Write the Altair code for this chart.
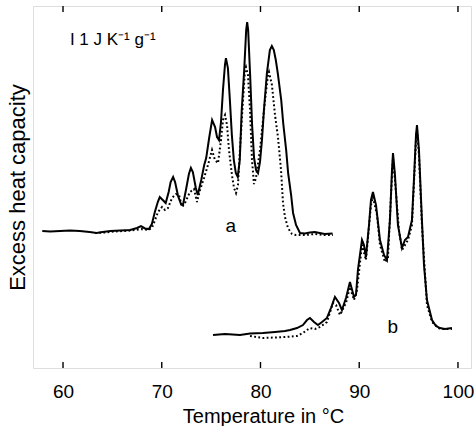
import altair as alt
import pandas as pd

# ---- data (temperature in °C, excess heat capacity in J K^-1 g^-1, curves offset) ----
a_solid_T = [57.9, 58.7, 59.7, 60.7, 61.7, 62.7, 63.4, 64.0, 64.8, 65.8, 66.8, 67.5, 67.9, 68.3, 68.7,
             69.0, 69.3, 69.6, 69.8, 70.1, 70.4, 70.7, 70.9, 71.15, 71.35, 71.65, 71.95, 72.15, 72.45,
             72.75, 72.95, 73.15, 73.45, 73.65, 74.0, 74.3, 74.5, 74.8, 75.1, 75.4, 75.6, 75.8, 76.0,
             76.2, 76.4, 76.5, 76.7, 76.9, 77.1, 77.3, 77.5, 77.7, 77.9, 78.1, 78.35, 78.55, 78.65,
             78.75, 78.95, 79.15, 79.35, 79.55, 79.75, 79.95, 80.15, 80.35, 80.65, 80.95, 81.15, 81.35,
             81.55, 81.75, 82.1, 82.3, 82.6, 82.8, 83.1, 83.3, 83.6, 84.0, 84.5, 85.0, 85.5, 86.0,
             86.5, 87.3]
a_solid_cp = [11.42, 11.38, 11.42, 11.46, 11.42, 11.33, 11.25, 11.33, 11.42, 11.46, 11.5, 11.67, 11.83,
              11.63, 11.58, 12.0, 13.0, 13.83, 14.25, 14.0, 13.75, 14.67, 15.5, 15.92, 15.5, 14.33,
              13.67, 13.58, 14.83, 16.17, 16.67, 16.33, 15.0, 14.42, 15.67, 16.92, 17.5, 19.17, 20.67,
              20.08, 19.25, 19.0, 20.5, 23.17, 25.25, 25.83, 25.0, 22.33, 19.42, 17.33, 16.25, 15.92,
              17.33, 21.5, 24.83, 28.17, 28.83, 28.17, 24.42, 20.25, 17.5, 16.5, 16.25, 17.17, 19.0,
              21.5, 24.58, 26.5, 26.83, 26.5, 25.67, 24.58, 22.33, 20.42, 18.17, 16.25, 14.42, 12.92,
              11.92, 11.25, 11.21, 11.29, 11.33, 11.25, 11.17, 11.2]

a_dot_T = [63.24, 64.25, 65.27, 66.28, 67.29, 68.0, 68.61, 69.01, 69.32, 69.62, 70.03, 70.33, 70.63,
           71.04, 71.44, 71.75, 72.05, 72.35, 72.86, 73.27, 73.57, 73.87, 74.28, 74.68, 75.09, 75.39,
           75.7, 76.0, 76.2, 76.41, 76.61, 76.81, 77.11, 77.32, 77.52, 77.72, 77.92, 78.23, 78.43,
           78.53, 78.73, 78.94, 79.14, 79.34, 79.54, 79.95, 80.46, 80.76, 80.86, 81.16, 81.47, 81.77,
           82.08, 82.28, 82.48, 82.78, 83.19, 83.59, 84.51, 85.52, 86.53, 87.34]
a_dot_cp = [11.25, 11.29, 11.38, 11.42, 11.5, 11.58, 11.5, 11.67, 12.33, 13.0, 13.42, 13.17, 13.33,
            14.17, 14.5, 14.42, 13.42, 13.75, 14.67, 14.92, 13.83, 14.83, 15.83, 16.92, 18.17, 17.33,
            17.08, 19.0, 20.67, 21.08, 20.25, 18.17, 16.08, 15.0, 14.58, 15.25, 18.17, 22.33, 24.83,
            25.08, 24.42, 21.5, 17.33, 15.33, 15.83, 18.17, 22.33, 24.42, 24.67, 23.58, 21.08, 19.25,
            16.5, 13.75, 12.58, 11.67, 11.17, 11.08, 11.08, 11.17, 11.08, 11.08]

b_solid_T = [75.19, 76.41, 77.92, 78.94, 80.25, 81.47, 82.48, 82.99, 83.7, 84.3, 84.71, 85.01, 85.42,
             85.82, 86.23, 86.73, 87.14, 87.54, 87.95, 88.25, 88.66, 89.06, 89.47, 89.67, 89.87, 90.28,
             90.48, 90.68, 90.99, 91.19, 91.39, 91.7, 92.1, 92.51, 92.81, 93.11, 93.32, 93.42, 93.62,
             93.92, 94.33, 94.63, 94.94, 95.34, 95.54, 95.75, 95.85, 96.05, 96.35, 96.56, 96.86, 97.37,
             97.77, 98.18, 98.68, 99.39]
b_solid_cp = [2.75, 2.83, 2.75, 2.88, 2.92, 3.0, 3.08, 3.17, 3.33, 3.58, 4.0, 4.17, 3.83, 3.58, 3.83,
              4.17, 5.0, 5.92, 5.42, 4.83, 5.83, 7.17, 5.92, 6.08, 8.17, 10.67, 10.25, 9.25, 11.92,
              14.0, 14.67, 13.58, 10.67, 9.42, 9.0, 12.33, 16.5, 17.92, 16.08, 11.92, 10.0, 10.67,
              10.92, 12.33, 15.67, 19.42, 20.25, 18.17, 12.33, 8.58, 5.67, 4.0, 3.5, 3.33, 3.25, 3.33]

b_dot_T = [78.94, 80.25, 81.47, 82.48, 83.7, 84.3, 84.71, 85.01, 85.52, 86.03, 86.73, 87.34, 87.65,
           88.05, 88.66, 89.06, 89.47, 89.77, 90.28, 90.68, 91.19, 91.39, 91.8, 92.1, 92.61, 92.91,
           93.32, 93.42, 93.62, 94.02, 94.33, 94.94, 95.34, 95.75, 95.85, 96.05, 96.35, 96.86, 97.37,
           98.18, 99.39]
b_dot_cp = [2.67, 2.5, 2.54, 2.58, 2.67, 2.92, 3.17, 3.33, 3.25, 3.42, 3.83, 5.42, 5.25, 4.42, 5.42,
            6.75, 5.67, 6.5, 10.25, 9.0, 13.58, 14.25, 12.75, 10.25, 8.83, 9.17, 16.08, 17.5, 15.67,
            11.5, 9.83, 10.67, 11.92, 19.0, 19.83, 17.75, 11.92, 5.25, 3.83, 3.25, 3.25]

tick_values = [60, 70, 80, 90, 100]

curve_labels = ["a", "b"]
curve_label_T = [77.0, 93.4]
curve_label_cp = [11.3, 2.95]

scale_text = ["I 1 J K\u207b\u00b9 g\u207b\u00b9"]
scale_text_T = [60.7]
scale_text_cp = [26.9]

# ---- frames ----
def frame(T, cp, curve):
    return pd.DataFrame({"T": T, "cp": cp, "curve": curve})

solid = pd.concat([frame(a_solid_T, a_solid_cp, "a"), frame(b_solid_T, b_solid_cp, "b")])
dotted = pd.concat([frame(a_dot_T, a_dot_cp, "a"), frame(b_dot_T, b_dot_cp, "b")])
ticks = pd.DataFrame({"T": tick_values})
labels = pd.DataFrame({"T": curve_label_T, "cp": curve_label_cp, "text": curve_labels})
scale_df = pd.DataFrame({"T": scale_text_T, "cp": scale_text_cp, "text": scale_text})

W, H = 438, 362

x_enc = alt.X(
    "T:Q",
    scale=alt.Scale(domain=[56.96, 101.32], nice=False, zero=False),
    axis=alt.Axis(
        values=tick_values, format="d", title="Temperature in \u00b0C",
        ticks=False, tickSize=0, domain=False, grid=False,
        labelFontSize=19, labelPadding=14, labelColor="black",
        titleFontSize=20, titleFontWeight="normal", titleColor="black",
        titleX=230, titleY=54, titleAlign="center", titleBaseline="alphabetic",
    ),
)
y_enc = alt.Y(
    "cp:Q",
    scale=alt.Scale(domain=[0, 30.17], nice=False, zero=False),
    axis=alt.Axis(
        title="Excess heat capacity", labels=False, ticks=False, domain=False, grid=False,
        titleFontSize=22, titleFontWeight="normal", titleColor="black",
        titleAngle=-90, titleX=-9, titleY=181, titleAlign="center", titleBaseline="alphabetic",
    ),
)

solid_layer = alt.Chart(solid).mark_line(color="black", strokeWidth=2.0).encode(
    x=x_enc, y=y_enc, detail="curve:N", order="T:Q")
dotted_layer = alt.Chart(dotted).mark_line(
    color="black", strokeWidth=2.0, strokeDash=[1.8, 2.4]).encode(
    x=x_enc, y=y_enc, detail="curve:N", order="T:Q")

bottom_ticks = alt.Chart(ticks).mark_rule(color="black", strokeWidth=1.4).encode(
    x=x_enc, y=alt.value(H), y2=alt.value(H - 6))
top_ticks = alt.Chart(ticks).mark_rule(color="black", strokeWidth=1.4).encode(
    x=x_enc, y=alt.value(0), y2=alt.value(6))

label_layer = alt.Chart(labels).mark_text(
    fontSize=19, align="center", baseline="alphabetic", color="black").encode(
    x=x_enc, y=y_enc, text="text:N")
scale_layer = alt.Chart(scale_df).mark_text(
    fontSize=17, align="left", baseline="alphabetic", color="black").encode(
    x=x_enc, y=y_enc, text="text:N")

chart = alt.layer(
    solid_layer, dotted_layer, bottom_ticks, top_ticks, label_layer, scale_layer
).properties(
    width=W, height=H,
    autosize=alt.AutoSizeParams(type="none"),
    padding={"left": 33, "top": 6, "right": 4, "bottom": 58},
    background="white",
).configure_view(
    stroke="black", strokeWidth=1.4
).configure(
    font="Liberation Sans"
)

chart.save("out.html", embed_options={"renderer": "svg", "actions": False})
